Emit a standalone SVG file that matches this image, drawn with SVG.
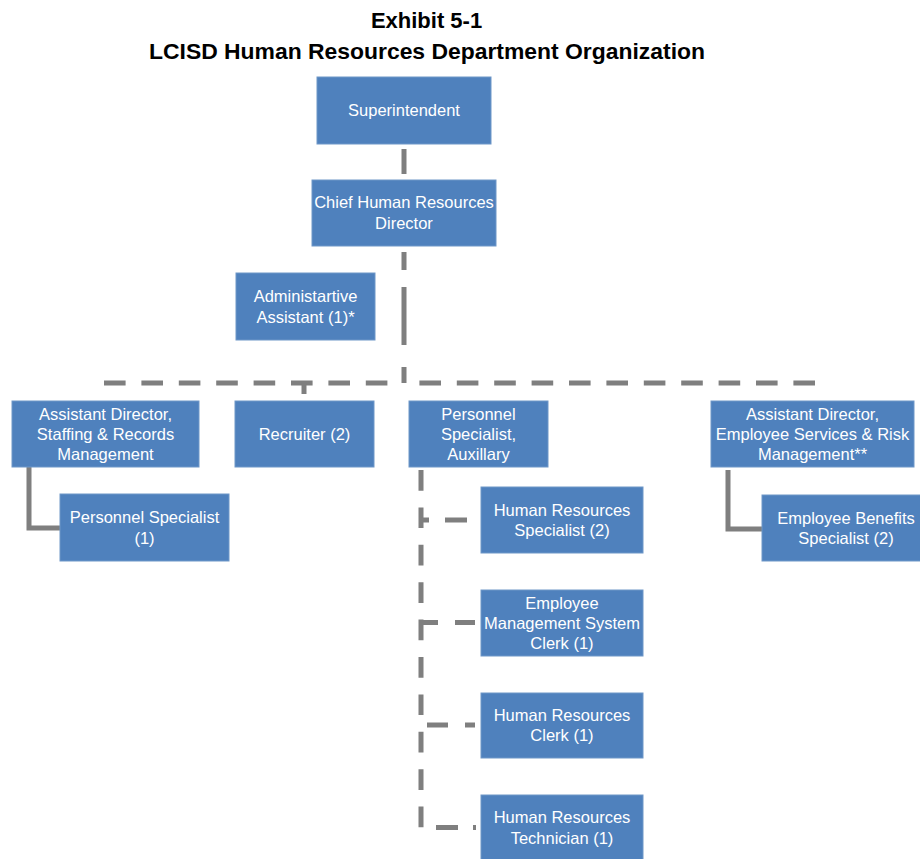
<svg xmlns="http://www.w3.org/2000/svg" width="920" height="859" viewBox="0 0 920 859">
<style>
.box{fill:#4F81BD;stroke:#6F97C8;stroke-width:1}
.t{font-family:"Liberation Sans",Arial,sans-serif;font-size:16.5px;fill:#FFFFFF;text-anchor:middle}
.title{font-family:"Liberation Sans",Arial,sans-serif;font-size:22px;font-weight:bold;fill:#000000;text-anchor:middle}
.c{stroke:#7F7F7F;stroke-width:5;fill:none;stroke-linecap:butt}
.d{stroke-dasharray:21.6 15.8}
</style>
<rect width="920" height="859" fill="#FFFFFF"/>
<g id="title">
<text class="title" x="426.5" y="28">Exhibit 5-1</text>
<text class="title" x="427" y="59" textLength="556" lengthAdjust="spacingAndGlyphs">LCISD Human Resources Department Organization</text>
</g>
<g id="connectors">
<line class="c" x1="404" y1="149" x2="404" y2="174"/>
<line class="c" x1="404" y1="252" x2="404" y2="383" stroke-dasharray="18 17 58 22 16"/>
<line class="c d" x1="104" y1="383" x2="390" y2="383"/>
<line class="c d" x1="815" y1="383" x2="404" y2="383"/>
<line class="c" x1="304" y1="383" x2="304" y2="394"/>
<path class="c" d="M29,467 V528 H60"/>
<path class="c" d="M728,470 V529 H762"/>
<line class="c" x1="421" y1="470" x2="421" y2="828" stroke-dasharray="20.7 16.7"/>
<line class="c" x1="421" y1="520" x2="429" y2="520"/>
<line class="c" x1="445" y1="520" x2="467" y2="520"/>
<line class="c" x1="421" y1="622.5" x2="438" y2="622.5"/>
<line class="c" x1="455" y1="622.5" x2="475" y2="622.5"/>
<line class="c" x1="427" y1="725" x2="448" y2="725"/>
<line class="c" x1="465" y1="725" x2="475" y2="725"/>
<line class="c" x1="436" y1="827.5" x2="458" y2="827.5"/>
<line class="c" x1="473" y1="827.5" x2="476" y2="827.5"/>
</g>
<g id="superintendent">
<rect class="box" x="317" y="77" width="174" height="67"/>
<text class="t" x="404" y="116">Superintendent</text>
</g>
<g id="chief-hr-director">
<rect class="box" x="312" y="180" width="184" height="66"/>
<text class="t" x="404" y="208">Chief Human Resources</text>
<text class="t" x="404" y="229">Director</text>
</g>
<g id="admin-assistant">
<rect class="box" x="236" y="273" width="139" height="67"/>
<text class="t" x="305.5" y="302">Administartive</text>
<text class="t" x="305.5" y="322.5">Assistant (1)*</text>
</g>
<g id="asst-dir-staffing">
<rect class="box" x="12" y="401" width="187" height="66"/>
<text class="t" x="105.5" y="419.5">Assistant Director,</text>
<text class="t" x="105.5" y="439.5">Staffing &amp; Records</text>
<text class="t" x="105.5" y="459.5">Management</text>
</g>
<g id="recruiter">
<rect class="box" x="235" y="401" width="139" height="66"/>
<text class="t" x="304.5" y="439.5">Recruiter (2)</text>
</g>
<g id="personnel-specialist-auxillary">
<rect class="box" x="409" y="401" width="139" height="66"/>
<text class="t" x="478.5" y="419.5">Personnel</text>
<text class="t" x="478.5" y="439.5">Specialist,</text>
<text class="t" x="478.5" y="459.5">Auxillary</text>
</g>
<g id="asst-dir-employee-services">
<rect class="box" x="711" y="401" width="203" height="66"/>
<text class="t" x="812.5" y="419.5">Assistant Director,</text>
<text class="t" x="812.5" y="439.5">Employee Services &amp; Risk</text>
<text class="t" x="812.5" y="459.5">Management**</text>
</g>
<g id="personnel-specialist">
<rect class="box" x="60" y="494" width="169" height="67"/>
<text class="t" x="144.5" y="523">Personnel Specialist</text>
<text class="t" x="144.5" y="543.5">(1)</text>
</g>
<g id="hr-specialist">
<rect class="box" x="481" y="487" width="162" height="66"/>
<text class="t" x="562" y="515.5">Human Resources</text>
<text class="t" x="562" y="536">Specialist (2)</text>
</g>
<g id="employee-benefits-specialist">
<rect class="box" x="762" y="495" width="168" height="66"/>
<text class="t" x="846" y="523.5">Employee Benefits</text>
<text class="t" x="846" y="544">Specialist (2)</text>
</g>
<g id="ems-clerk">
<rect class="box" x="481" y="590" width="162" height="66"/>
<text class="t" x="562" y="608.5">Employee</text>
<text class="t" x="562" y="628.5">Management System</text>
<text class="t" x="562" y="648.5">Clerk (1)</text>
</g>
<g id="hr-clerk">
<rect class="box" x="481" y="693" width="162" height="65"/>
<text class="t" x="562" y="720.5">Human Resources</text>
<text class="t" x="562" y="741">Clerk (1)</text>
</g>
<g id="hr-technician">
<rect class="box" x="481" y="795" width="162" height="66"/>
<text class="t" x="562" y="823">Human Resources</text>
<text class="t" x="562" y="843.5">Technician (1)</text>
</g>
</svg>
